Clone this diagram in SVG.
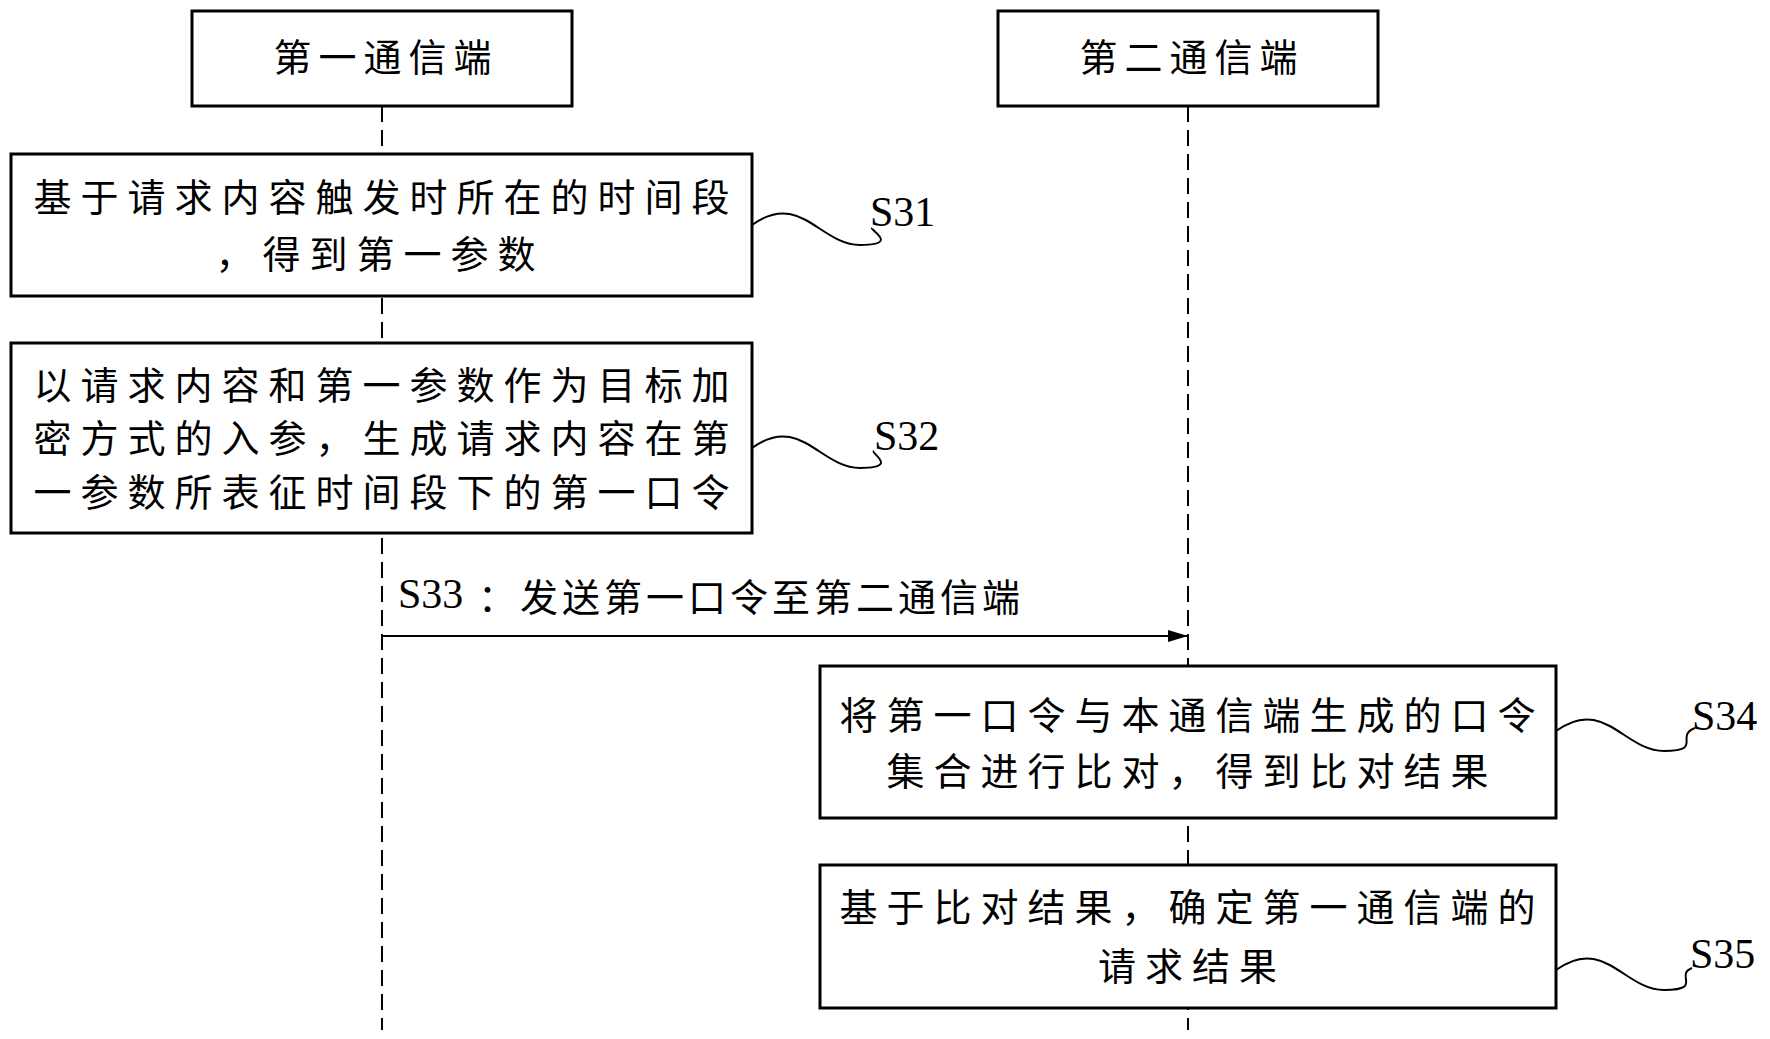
<svg xmlns="http://www.w3.org/2000/svg" width="1770" height="1039" viewBox="0 0 1770 1039">
<style>
rect{fill:#fff;stroke:#000;stroke-width:3}
.t{font-family:"Noto Sans CJK SC",sans-serif;font-size:38px;letter-spacing:9px;text-anchor:middle;dominant-baseline:central}
.l{font-family:"Liberation Serif",serif;font-size:42px}
.c{fill:none;stroke:#000;stroke-width:2}
</style>
<defs><marker id="a" markerWidth="20" markerHeight="12" refX="20" refY="6" orient="auto" markerUnits="userSpaceOnUse"><path d="M0,0L20,6L0,12z"/></marker></defs>
<g id="connectors">
<path class="c" d="M382,106V1030M1188,106V1030" stroke-dasharray="16,8"/>
<path class="c" d="M382,636H1188" marker-end="url(#a)"/>
<path class="c" d="M752,225C800,190 820,245 860,245S870,230 872,228"/>
<path class="c" d="M752,448C800,413 820,468 860,468S870,453 874,451"/>
<path class="c" d="M1556,731C1604,696 1624,751 1664,751S1674,736 1695,728"/>
<path class="c" d="M1556,970C1604,935 1624,990 1664,990S1674,975 1692,968"/>
</g>
<g id="n1"><rect x="192" y="11" width="380" height="95"/><text class="t" x="386" y="54" style="letter-spacing:7px">第一通信端</text></g>
<g id="n2"><rect x="998" y="11" width="380" height="95"/><text class="t" x="1192" y="54" style="letter-spacing:7px">第二通信端</text></g>
<g id="s31"><rect x="11" y="154" width="741" height="142"/><text class="t" x="386" y="194">基于请求内容触发时所在的时间段</text><text class="t" x="380" y="251">，得到第一参数</text><text class="l" x="870" y="226">S31</text></g>
<g id="s32"><rect x="11" y="343" width="741" height="190"/><text class="t" x="386" y="382">以请求内容和第一参数作为目标加</text><text class="t" x="386" y="435">密方式的入参，生成请求内容在第</text><text class="t" x="386" y="489">一参数所表征时间段下的第一口令</text><text class="l" x="874" y="450">S32</text></g>
<g id="s33"><text class="l" x="398" y="608">S33</text><text class="t" x="478" y="594" style="letter-spacing:4px;text-anchor:start">：发送第一口令至第二通信端</text></g>
<g id="s34"><rect x="820" y="666" width="736" height="152"/><text class="t" x="1192" y="712">将第一口令与本通信端生成的口令</text><text class="t" x="1192" y="768">集合进行比对，得到比对结果</text><text class="l" x="1692" y="730">S34</text></g>
<g id="s35"><rect x="820" y="865" width="736" height="143"/><text class="t" x="1192" y="904">基于比对结果，确定第一通信端的</text><text class="t" x="1192" y="963">请求结果</text><text class="l" x="1690" y="968">S35</text></g>
</svg>
